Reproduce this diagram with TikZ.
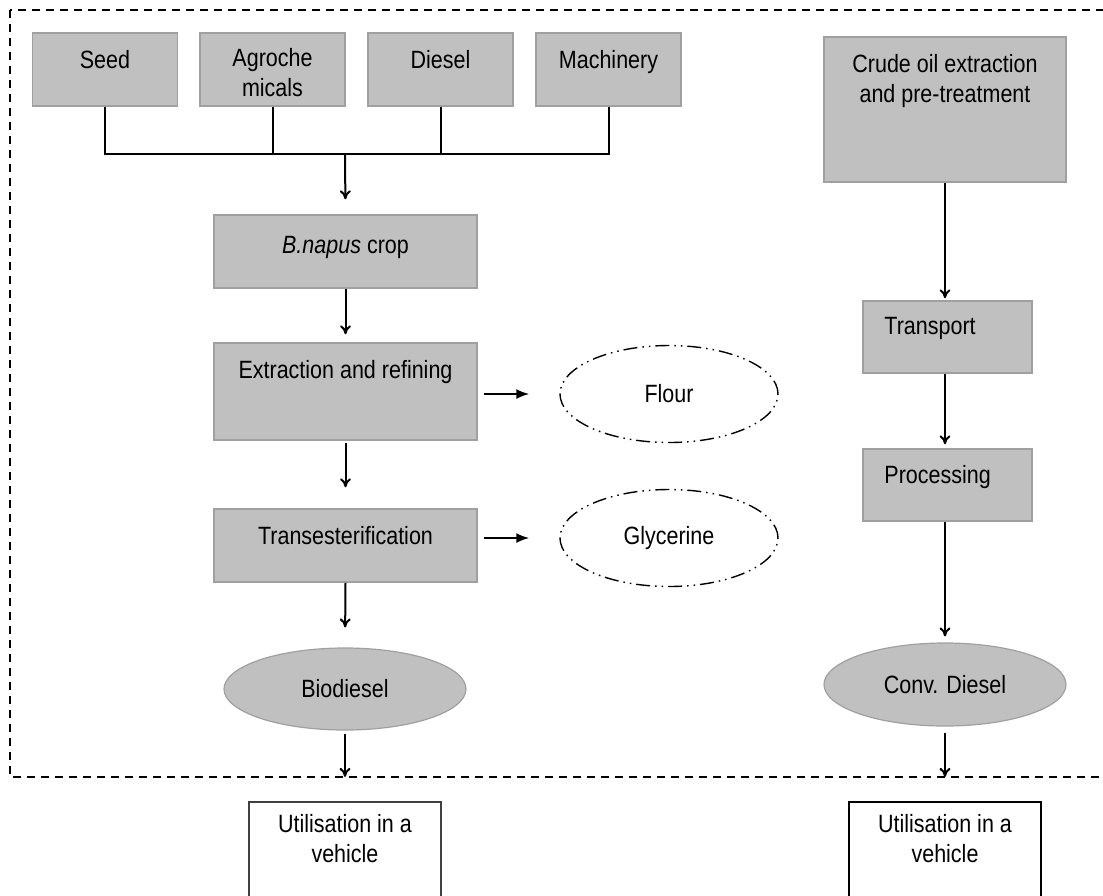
\documentclass[tikz,border=0pt]{standalone}
\usepackage{fontspec}
\setmainfont{Liberation Sans}[FakeStretch=0.86]
\usetikzlibrary{shapes.geometric,arrows.meta}

\definecolor{boxfill}{HTML}{C0C0C0}
\definecolor{boxline}{HTML}{A0A0A0}

\tikzset{
  greybox/.style={draw=boxline, fill=boxfill, line width=1.5pt, inner sep=0pt},
  greyoval/.style={ellipse, draw=boxline, fill=boxfill, line width=1.2pt, inner sep=0pt},
  sideoval/.style={ellipse, draw=black, line width=1.4pt, inner sep=0pt,
    dash pattern=on 14pt off 5pt on 1.5pt off 5pt on 1.5pt off 5pt,
    minimum width=218pt, minimum height=97pt},
  whitebox/.style={draw, fill=white, line width=2.2pt, inner sep=0pt,
    minimum width=192pt, minimum height=130pt},
  intext/.style={anchor=north, inner sep=0pt, align=center, yshift=-18pt},
  joint/.style={line width=2pt},
  flow/.style={-{To[length=9pt,width=11pt]}, line width=2pt},
  sidearrow/.style={-{Latex[length=13pt,width=10pt]}, line width=2pt},
}

\begin{document}
\begin{tikzpicture} [x=1pt, y=-1pt, font=\fontsize{25}{30}\selectfont]
    \useasboundingbox (0,0) rectangle (1103,895);
    \clip (0,0) rectangle (1103,895);
    \draw [line width=1.5pt, dash pattern=on 8pt off 6pt] (10,10) rectangle (1120,777);

    \node [greybox, minimum width=145pt, minimum height=73pt, label={[intext]north:Seed}] (seed) at (105,69.5) {};
    \node [greybox, minimum width=145pt, minimum height=73pt, label={[intext, yshift=2pt]north:Agroche\\micals}] (agro) at (272.5,69.5) {};
    \node [greybox, minimum width=145pt, minimum height=73pt, label={[intext]north:Diesel}] (diesel) at (440.5,69.5) {};
    \node [greybox, minimum width=145pt, minimum height=73pt, label={[intext]north:Machinery}] (machinery) at (608.5,69.5) {};
    \coordinate (fork) at (345,154);

    \node [greybox, minimum width=263pt, minimum height=73pt, label={[intext, yshift=-4pt]north:\textit{B.napus} crop}] (crop) at (345.5,251.5) {};
    \node [greybox, minimum width=263pt, minimum height=97pt, label={[intext]north:Extraction and refining}] (extract) at (345.5,391.5) {};
    \node [greybox, minimum width=263pt, minimum height=73pt, label={[intext]north:Transesterification}] (trans) at (345.5,545.5) {};
    \node [greyoval, minimum width=242pt, minimum height=82pt] (biodiesel) at (345,689) {Biodiesel};
    \node [whitebox, draw=black!75, label={[intext, yshift=5pt]north:Utilisation in a\\vehicle}] (useA) at (345,867) {};

    \node [sideoval] (flour) at (669,394) {Flour};
    \node [sideoval] (glycerine) at (669,538) {Glycerine};

    \node [greybox, minimum width=242pt, minimum height=145pt, label={[intext]north:Crude oil extraction\\and pre-treatment}] (crude) at (945,109.5) {};
    \node [greybox, minimum width=169pt, minimum height=72pt, label={[anchor=north west, inner sep=0pt, xshift=22pt, yshift=-17pt]north west:Transport}] (transport) at (947.5,337) {};
    \node [greybox, minimum width=169pt, minimum height=72pt, label={[anchor=north west, inner sep=0pt, xshift=22pt, yshift=-17pt]north west:Processing}] (processing) at (947.5,485) {};
    \node [greyoval, minimum width=242pt, minimum height=83pt] (conv) at (945,684.5) {Conv. Diesel};
    \node [whitebox, label={[intext, yshift=5pt]north:Utilisation in a\\vehicle}] (useB) at (945,867) {};

    \draw [joint] (seed.south) |- (fork);
    \draw [joint] (agro.south) |- (fork);
    \draw [joint] (diesel.south) |- (fork);
    \draw [joint] (machinery.south) |- (fork);
    \draw [flow, shorten >=15pt] (fork) -- (crop.north);
    \draw [flow, shorten >=8pt] (crop.south) -- (extract.north);
    \draw [flow, shorten <=2pt, shorten >=21pt] (extract.south) -- (trans.north);
    \draw [flow, shorten >=20pt] (trans.south) -- (biodiesel.north);
    \draw [flow, shorten <=3pt, shorten >=24pt] (biodiesel.south) -- (useA.north);
    \draw [sidearrow, shorten <=6pt, shorten >=30pt] (extract.east |- flour.west) -- (flour.west);
    \draw [sidearrow, shorten <=6pt, shorten >=30pt] (trans.east |- glycerine.west) -- (glycerine.west);

    \draw [flow, shorten >=2pt] (crude.south) -- (transport.north -| crude.south);
    \draw [flow, shorten >=4pt] (transport.south -| crude.south) -- (processing.north -| crude.south);
    \draw [flow, shorten >=6pt] (processing.south -| crude.south) -- (conv.north);
    \draw [flow, shorten <=6pt, shorten >=24pt] (conv.south) -- (useB.north);
  \end{tikzpicture}
\end{document}
